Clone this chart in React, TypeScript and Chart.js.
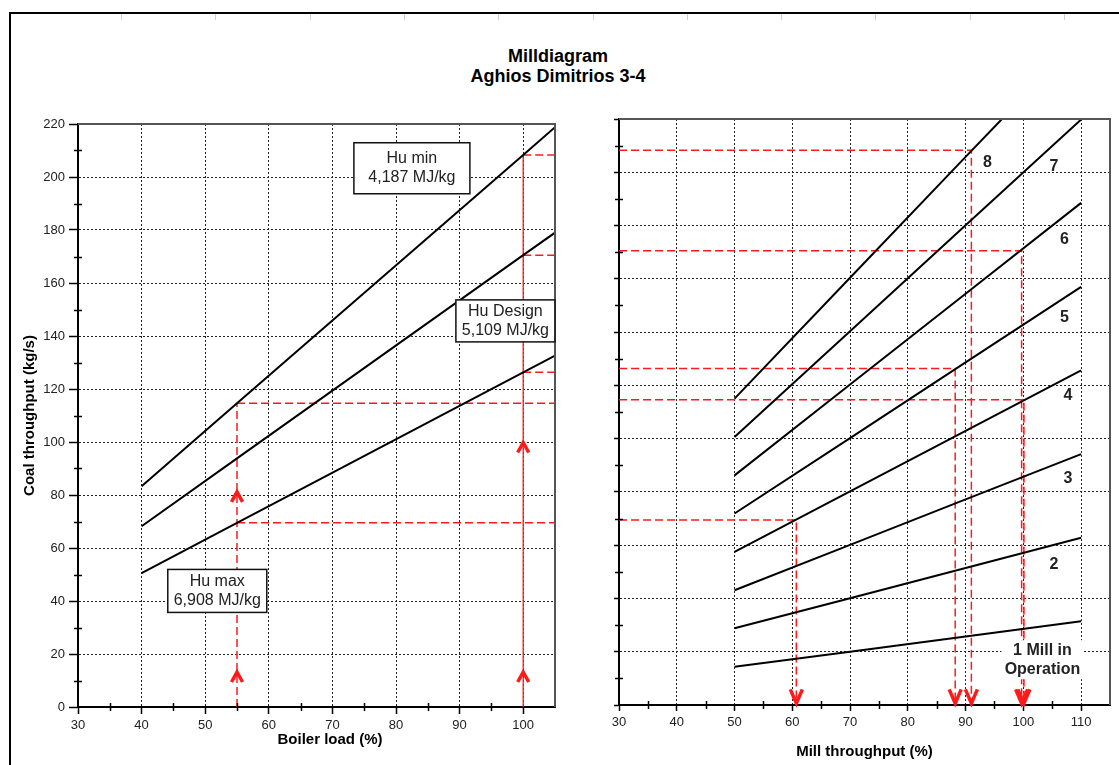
import React, { useEffect, useRef } from 'react';
import { Chart, registerables } from 'chart.js';

Chart.register(...registerables);

const FONT = "'Liberation Sans', Arial, Helvetica, sans-serif";

// ---------- Left diagram: coal throughput (kg/s) vs boiler load (%) ----------
const boilerLoad = [40, 55, 100, 105];
const huMinFlow = [83.3, 114.6, 208.3, 218.8]; // Hu min 4,187 MJ/kg
const huDesignFlow = [68.2, 93.8, 170.5, 179.0]; // Hu Design 5,109 MJ/kg
const huMaxFlow = [50.5, 69.5, 126.3, 132.6]; // Hu max 6,908 MJ/kg

const boilerTickLabels = [30, 40, 50, 60, 70, 80, 90, 100];
const flowTickLabels = [0, 20, 40, 60, 80, 100, 120, 140, 160, 180, 200, 220];
const boilerMin = 30;
const boilerMax = 105;
const flowMax = 220;

// reading guides (left)
const partLoad = 55;
const fullLoad = 100;
const partLoadFlows = [114.6, 69.5];
const fullLoadFlows = [208.3, 170.5, 126.3];
const upArrowLoads = [55, 55, 100, 100];
const upArrowFlows = [13.2, 81.2, 13.2, 99.8];

// ---------- Right diagram: coal throughput vs mill throughput (%) ----------
const millLoad = [50, 70, 90, 110];
const mills1 = [14.4, 20.0, 25.7, 31.4];
const mills2 = [28.8, 40.1, 51.4, 62.8];
const mills3 = [43.1, 60.1, 77.2, 94.2];
const mills4 = [57.5, 80.2, 102.9, 125.6];
const mills5 = [71.9, 100.2, 128.6, 157.0];
const mills6 = [86.2, 120.3, 154.4, 188.5];
const mills7 = [100.6, 140.3, 180.1, 219.8];
const mill8Load = [50, 70, 90, 96.3];
const mills8 = [115.0, 160.4, 205.8, 220.0];

const millTickLabels = [30, 40, 50, 60, 70, 80, 90, 100, 110];
const millMin = 30;
const millMax = 115;

// reading guides (right)
const guideFlows = [208.3, 170.5, 126.3, 114.6, 69.5];
const guideMillLoads = [91.0, 99.7, 88.2, 100.1, 60.7];
const downArrowFlow = 0.6;

// ---------- styles ----------
const RED = '#ff1a1a';
const GRID = '#222';
const CLEAR = 'rgba(0,0,0,0)';

type Pt = { x: number; y: number };
const pts = (xs: number[], ys: number[]): Pt[] => xs.map((x, i) => ({ x, y: ys[i] }));

const blackLine = (data: Pt[]) => ({
  data,
  showLine: true,
  borderColor: '#000',
  borderWidth: 2,
  pointRadius: 0,
  pointHoverRadius: 0,
  fill: false,
  tension: 0,
});
const redLine = (data: Pt[], dashed = true) => ({
  data,
  showLine: true,
  borderColor: RED,
  borderWidth: dashed ? 1.5 : 1.3,
  borderDash: dashed ? [8, 4] : [],
  pointRadius: 0,
  pointHoverRadius: 0,
  fill: false,
  tension: 0,
});

type TextBox = { lines: string[]; x: number; y: number; w: number; h: number; border: boolean; bg: boolean; font: string; color: string };
type Arrow = { x: number; y: number; dir: 'up' | 'down' };

const overlayPlugin = (boxes: TextBox[], arrows: Arrow[], majorX: number[], majorY: number[]) => ({
  id: 'overlay',
  afterDatasetsDraw(chart: any) {
    const { ctx, chartArea: a, scales } = chart;
    const xs = scales.x;
    const ys = scales.y;
    ctx.save();
    // top and right frame of the plot
    ctx.strokeStyle = '#555';
    ctx.lineWidth = 2;
    ctx.setLineDash([]);
    ctx.beginPath();
    ctx.moveTo(a.left, a.top);
    ctx.lineTo(a.right, a.top);
    ctx.lineTo(a.right, a.bottom);
    ctx.stroke();
    // minor ticks crossing the axes
    ctx.strokeStyle = '#000';
    ctx.lineWidth = 1.5;
    xs.ticks.forEach((t: any) => {
      if (majorX.includes(t.value) || t.value === xs.max) return;
      const px = Math.round(xs.getPixelForValue(t.value)) + 0.5;
      ctx.beginPath();
      ctx.moveTo(px, a.bottom - 4);
      ctx.lineTo(px, a.bottom + 4);
      ctx.stroke();
    });
    ys.ticks.forEach((t: any) => {
      if (majorY.includes(t.value)) return;
      const py = Math.round(ys.getPixelForValue(t.value)) + 0.5;
      ctx.beginPath();
      ctx.moveTo(a.left - 4, py);
      ctx.lineTo(a.left + 4, py);
      ctx.stroke();
    });
    // text boxes
    boxes.forEach((b) => {
      const cx = xs.getPixelForValue(b.x);
      const cy = ys.getPixelForValue(b.y);
      if (b.bg) {
        ctx.fillStyle = '#fff';
        ctx.fillRect(cx - b.w / 2, cy - b.h / 2, b.w, b.h);
      }
      if (b.border) {
        ctx.strokeStyle = '#111';
        ctx.lineWidth = 1.5;
        ctx.strokeRect(cx - b.w / 2, cy - b.h / 2, b.w, b.h);
      }
      ctx.fillStyle = b.color;
      ctx.font = b.font;
      ctx.textAlign = 'center';
      ctx.textBaseline = 'middle';
      const lh = 19;
      b.lines.forEach((txt, i) => {
        ctx.fillText(txt, cx, cy + (i - (b.lines.length - 1) / 2) * lh);
      });
    });
    // arrow heads
    ctx.strokeStyle = RED;
    ctx.lineWidth = 3.5;
    ctx.lineJoin = 'miter';
    arrows.forEach((ar) => {
      const px = xs.getPixelForValue(ar.x);
      const py = ys.getPixelForValue(ar.y);
      const up = ar.dir === 'up';
      const hw = up ? 5.5 : 6;
      const h = up ? 10 : 14;
      const s = up ? 1 : -1;
      ctx.beginPath();
      ctx.moveTo(px - hw, py + s * h);
      ctx.lineTo(px, py);
      ctx.lineTo(px + hw, py + s * h);
      ctx.stroke();
    });
    ctx.restore();
  },
});

const tickFont = { family: FONT, size: 13 };
const titleFont = { family: FONT, size: 15, weight: 'bold' as const };

function leftConfig(): any {
  const boxes: TextBox[] = [
    { lines: ['Hu min', '4,187 MJ/kg'], x: 82.5, y: 203.3, w: 116, h: 51, border: true, bg: true, font: `16px ${FONT}`, color: '#222' },
    { lines: ['Hu Design', '5,109 MJ/kg'], x: 97.2, y: 145.7, w: 99, h: 42, border: true, bg: true, font: `16px ${FONT}`, color: '#222' },
    { lines: ['Hu max', '6,908 MJ/kg'], x: 51.9, y: 43.8, w: 99, h: 43, border: true, bg: true, font: `16px ${FONT}`, color: '#222' },
  ];
  const arrows: Arrow[] = upArrowLoads.map((l, i) => ({ x: l, y: upArrowFlows[i], dir: 'up' as const }));
  return {
    type: 'scatter',
    data: {
      datasets: [
        blackLine(pts(boilerLoad, huMinFlow)),
        blackLine(pts(boilerLoad, huDesignFlow)),
        blackLine(pts(boilerLoad, huMaxFlow)),
        redLine([{ x: partLoad, y: 0 }, { x: partLoad, y: partLoadFlows[0] }]),
        ...partLoadFlows.map((f) => redLine([{ x: partLoad, y: f }, { x: boilerMax, y: f }])),
        redLine([{ x: fullLoad, y: 0 }, { x: fullLoad, y: fullLoadFlows[0] }], false),
        ...fullLoadFlows.map((f) => redLine([{ x: fullLoad, y: f }, { x: boilerMax, y: f }])),
      ],
    },
    options: {
      responsive: false,
      maintainAspectRatio: false,
      animation: false,
      events: [],
      layout: { padding: { left: 0, right: 35, top: 124, bottom: 0 } },
      plugins: { legend: { display: false }, tooltip: { enabled: false }, title: { display: false } },
      scales: {
        x: {
          type: 'linear',
          min: boilerMin,
          max: boilerMax,
          ticks: {
            stepSize: 5,
            autoSkip: false,
            maxRotation: 0,
            padding: 4,
            font: tickFont,
            color: '#222',
            callback: (v: any) => (boilerTickLabels.includes(Number(v)) ? String(v) : ''),
          },
          grid: {
            color: (c: any) => {
              const v = c.tick ? c.tick.value : -1;
              return boilerTickLabels.includes(v) && v > boilerMin && v < boilerMax ? GRID : CLEAR;
            },
            lineWidth: 1,
            tickColor: (c: any) => (c.tick && boilerTickLabels.includes(c.tick.value) ? '#000' : CLEAR),
            tickLength: 7,
            tickWidth: 1.5,
          },
          border: { display: true, color: '#000', width: 2, dash: [2, 2] },
          afterFit: (s: any) => {
            s.height = 58;
          },
        },
        y: {
          type: 'linear',
          min: 0,
          max: flowMax,
          ticks: {
            stepSize: 10,
            autoSkip: false,
            padding: 4,
            font: tickFont,
            color: '#222',
            callback: (v: any) => (flowTickLabels.includes(Number(v)) ? String(v) : ''),
          },
          grid: {
            color: (c: any) => {
              const v = c.tick ? c.tick.value : -1;
              return flowTickLabels.includes(v) && v > 0 && v < flowMax ? GRID : CLEAR;
            },
            lineWidth: 1,
            tickColor: (c: any) => (c.tick && flowTickLabels.includes(c.tick.value) ? '#000' : CLEAR),
            tickLength: 9,
            tickWidth: 1.5,
          },
          border: { display: true, color: '#000', width: 2, dash: [2, 2] },
          title: {
            display: true,
            text: 'Coal throughput (kg/s)',
            font: titleFont,
            color: '#000',
            padding: { top: 21, bottom: 0 },
          },
          afterFit: (s: any) => {
            s.width = 78;
          },
        },
      },
    },
    plugins: [overlayPlugin(boxes, arrows, boilerTickLabels, flowTickLabels)],
  };
}

function rightConfig(): any {
  const boxes: TextBox[] = [
    { lines: ['8'], x: 93.8, y: 203.6, w: 0, h: 0, border: false, bg: false, font: `bold 16px ${FONT}`, color: '#222' },
    { lines: ['7'], x: 105.3, y: 202.3, w: 0, h: 0, border: false, bg: false, font: `bold 16px ${FONT}`, color: '#222' },
    { lines: ['6'], x: 107.1, y: 174.8, w: 0, h: 0, border: false, bg: false, font: `bold 16px ${FONT}`, color: '#222' },
    { lines: ['5'], x: 107.1, y: 145.6, w: 0, h: 0, border: false, bg: false, font: `bold 16px ${FONT}`, color: '#222' },
    { lines: ['4'], x: 107.7, y: 116.0, w: 0, h: 0, border: false, bg: false, font: `bold 16px ${FONT}`, color: '#222' },
    { lines: ['3'], x: 107.7, y: 84.9, w: 0, h: 0, border: false, bg: false, font: `bold 16px ${FONT}`, color: '#222' },
    { lines: ['2'], x: 105.3, y: 52.6, w: 0, h: 0, border: false, bg: false, font: `bold 16px ${FONT}`, color: '#222' },
    { lines: ['1 Mill in', 'Operation'], x: 103.3, y: 17.0, w: 82, h: 39, border: false, bg: true, font: `bold 16px ${FONT}`, color: '#222' },
  ];
  const arrows: Arrow[] = guideMillLoads.map((m) => ({ x: m, y: downArrowFlow, dir: 'down' as const }));
  const millSeries = [mills1, mills2, mills3, mills4, mills5, mills6, mills7];
  return {
    type: 'scatter',
    data: {
      datasets: [
        ...millSeries.map((s) => blackLine(pts(millLoad, s))),
        blackLine(pts(mill8Load, mills8)),
        ...guideFlows.map((f, i) =>
          redLine([{ x: millMin, y: f }, { x: guideMillLoads[i], y: f }, { x: guideMillLoads[i], y: 0 }])
        ),
      ],
    },
    options: {
      responsive: false,
      maintainAspectRatio: false,
      animation: false,
      events: [],
      layout: { padding: { left: 0, right: 9, top: 119, bottom: 0 } },
      plugins: { legend: { display: false }, tooltip: { enabled: false }, title: { display: false } },
      scales: {
        x: {
          type: 'linear',
          min: millMin,
          max: millMax,
          ticks: {
            stepSize: 5,
            autoSkip: false,
            maxRotation: 0,
            padding: 4,
            font: tickFont,
            color: '#222',
            callback: (v: any) => (millTickLabels.includes(Number(v)) ? String(v) : ''),
          },
          grid: {
            color: (c: any) => {
              const v = c.tick ? c.tick.value : -1;
              return millTickLabels.includes(v) && v > millMin ? GRID : CLEAR;
            },
            lineWidth: 1,
            tickColor: (c: any) => (c.tick && millTickLabels.includes(c.tick.value) ? '#000' : CLEAR),
            tickLength: 6,
            tickWidth: 1.5,
          },
          border: { display: true, color: '#000', width: 2, dash: [2, 2] },
          title: {
            display: true,
            text: 'Mill throughput (%)',
            font: titleFont,
            color: '#000',
            padding: { top: 0, bottom: 4 },
          },
          afterFit: (s: any) => {
            s.height = 60;
          },
        },
        y: {
          type: 'linear',
          min: 0,
          max: flowMax,
          ticks: {
            stepSize: 10,
            autoSkip: false,
            padding: 2,
            font: tickFont,
            callback: () => '',
          },
          grid: {
            color: (c: any) => {
              const v = c.tick ? c.tick.value : -1;
              return flowTickLabels.includes(v) && v > 0 && v < flowMax ? GRID : CLEAR;
            },
            lineWidth: 1,
            tickColor: (c: any) => (c.tick && flowTickLabels.includes(c.tick.value) ? '#000' : CLEAR),
            tickLength: 5,
            tickWidth: 1.5,
          },
          border: { display: true, color: '#000', width: 2, dash: [2, 2] },
          afterFit: (s: any) => {
            s.width = 29;
          },
        },
      },
    },
    plugins: [overlayPlugin(boxes, arrows, millTickLabels, flowTickLabels)],
  };
}

const topMarks = Array.from({ length: 11 }, (_, i) => 121 + i * 94.3);

export default function App() {
  const leftRef = useRef<HTMLCanvasElement>(null);
  const rightRef = useRef<HTMLCanvasElement>(null);

  useEffect(() => {
    document.body.style.margin = '0';
    const l = new Chart(leftRef.current as HTMLCanvasElement, leftConfig());
    const r = new Chart(rightRef.current as HTMLCanvasElement, rightConfig());
    return () => {
      l.destroy();
      r.destroy();
    };
  }, []);

  return (
    <div style={{ position: 'relative', width: 1119, height: 765, overflow: 'hidden', background: '#fff', fontFamily: FONT }}>
      <div
        style={{
          position: 'absolute',
          left: 9,
          top: 12,
          width: 1200,
          height: 800,
          borderTop: '2px solid #000',
          borderLeft: '2px solid #000',
        }}
      />
      {topMarks.map((mx, i) => (
        <div key={i} style={{ position: 'absolute', left: Math.round(mx), top: 14, width: 1, height: 6, background: '#d0d0d0' }} />
      ))}
      <div
        style={{
          position: 'absolute',
          left: 358,
          top: 46,
          width: 400,
          textAlign: 'center',
          fontWeight: 'bold',
          fontSize: 18,
          lineHeight: '20px',
          color: '#000',
        }}
      >
        <div>Milldiagram</div>
        <div>Aghios Dimitrios 3-4</div>
      </div>
      <canvas ref={leftRef} width={590} height={765} style={{ position: 'absolute', left: 0, top: 0 }} />
      <canvas ref={rightRef} width={529} height={765} style={{ position: 'absolute', left: 590, top: 0 }} />
      <div
        style={{
          position: 'absolute',
          left: 230,
          top: 730,
          width: 200,
          textAlign: 'center',
          fontWeight: 'bold',
          fontSize: 15,
          lineHeight: '18px',
          color: '#000',
        }}
      >
        Boiler load (%)
      </div>
    </div>
  );
}
